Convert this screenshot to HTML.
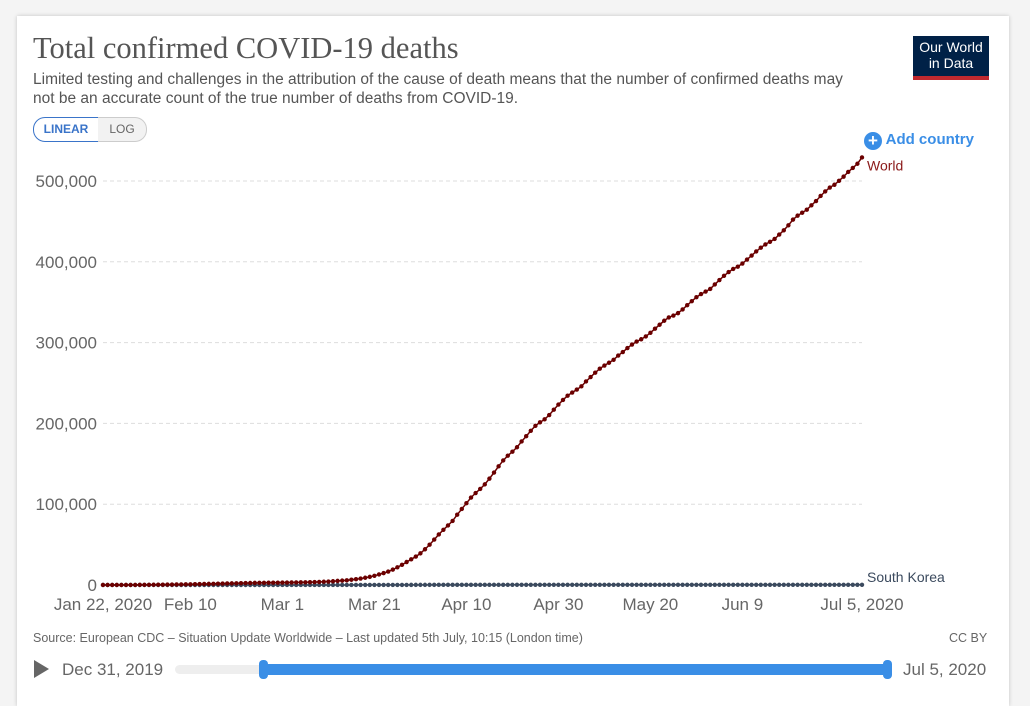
<!DOCTYPE html>
<html><head><meta charset="utf-8"><style>
body{margin:0;width:1030px;height:691px;background:#f4f4f4;font-family:"Liberation Sans",sans-serif;overflow:hidden;position:relative}
#card{position:absolute;left:17px;top:16px;width:992px;height:690px;background:#fff;box-shadow:0 0 4px rgba(0,0,0,.2)}
.abs{position:absolute}
</style></head><body>
<div id="card"></div>
<div class="abs" style="left:33px;top:31px;font-family:'Liberation Serif',serif;font-size:30.5px;color:#555">Total confirmed COVID-19 deaths</div>
<div class="abs" style="left:33px;top:70px;width:880px;font-size:15.5px;line-height:19px;color:#555">Limited testing and challenges in the attribution of the cause of death means that the number of confirmed deaths may<br>not be an accurate count of the true number of deaths from COVID-19.</div>
<div class="abs" style="left:913px;top:36px;width:76px;height:44px;background:#002147;color:#fff;font-size:14px;line-height:16px;text-align:center;padding-top:3px;box-sizing:border-box;border-bottom:4px solid #c0292f">Our World<br>in Data</div>
<div class="abs" style="left:33px;top:117px;width:64px;height:23px;border:1px solid #3a74c9;border-radius:12px 0 0 12px;color:#3a74c9;font-size:12px;line-height:23px;text-align:center;font-weight:bold">LINEAR</div>
<div class="abs" style="left:98px;top:117px;width:48px;height:23px;border:1px solid #ccc;border-left:none;border-radius:0 12px 12px 0;color:#666;font-size:12px;line-height:23px;text-align:center;background:#f2f2f2">LOG</div>
<div class="abs" style="left:864px;top:131px;font-size:15px;font-weight:bold;color:#3a8ee6"><span style="display:inline-block;width:18px;height:18px;border-radius:50%;background:#3a8ee6;color:#fff;text-align:center;line-height:18px;font-size:17px;vertical-align:-2px">+</span> Add country</div>
<svg class="abs" style="left:0;top:0" width="1030" height="691" id="svg"></svg>
<div class="abs" style="left:33px;top:631px;font-size:12.5px;color:#666">Source: European CDC – Situation Update Worldwide – Last updated 5th July, 10:15 (London time)</div>
<div class="abs" style="left:949px;top:631px;font-size:12.5px;color:#666">CC BY</div>
<div class="abs" style="left:34px;top:660px;width:0;height:0;border-left:15px solid #666;border-top:9px solid transparent;border-bottom:9px solid transparent"></div>
<div class="abs" style="left:62px;top:660px;font-size:17px;color:#666">Dec 31, 2019</div>
<div class="abs" style="left:175px;top:665px;width:713px;height:9px;border-radius:5px;background:#eee"></div>
<div class="abs" style="left:264px;top:664px;width:624px;height:11px;background:#3a8ee6"></div>
<div class="abs" style="left:259px;top:660px;width:9px;height:19px;border-radius:4px;background:#3a8ee6"></div>
<div class="abs" style="left:883px;top:660px;width:9px;height:19px;border-radius:4px;background:#3a8ee6"></div>
<div class="abs" style="left:903px;top:660px;font-size:17px;color:#666">Jul 5, 2020</div>
<script>
const world=[17,18,26,42,56,82,106,132,170,213,
259,304,362,426,492,565,638,724,813,910,1018,1115,1261,1383,1526,1669,1775,1873,2009,2126,2247,2360,2460,2618,2699,2763,2800,2858,2923,
2977,3050,3117,3202,3285,3387,3494,3599,3827,4025,4296,4628,5090,5415,5835,6513,7162,7975,8971,10049,11399,13078,14710,16650,19021,21904,24961,28454,31787,35184,39152,
44230,49856,56198,62567,68339,73707,79340,87003,94089,101279,108174,113828,118914,124536,131637,139097,146842,154153,160051,164955,170479,177628,184132,190856,197003,201343,205034,210369,216912,223258,
229014,234297,238226,241840,245868,251898,257355,262751,267732,271586,275061,278729,283948,288340,293203,297613,301252,304134,307651,312096,317195,322095,327041,331176,333446,336468,340991,346359,351290,356195,360015,
363114,366385,372008,377443,382628,387245,391176,393991,397848,402786,407706,412870,417441,421526,424796,428243,433696,438988,445192,452207,457133,460714,464453,469918,475128,481458,487135,491939,495347,500212,
505404,511187,516210,521355,529113];
const korea=[0,0,0,0,0,0,0,0,0,0,0,0,0,0,0,0,0,0,0,0,0,0,0,0,0,0,0,0,0,1,2,2,6,8,10,12,13,13,16,
17,28,28,35,35,42,44,50,53,54,60,66,66,72,75,75,81,84,91,94,102,104,111,111,120,126,131,139,144,152,158,
162,165,169,174,177,183,186,192,200,204,208,211,214,217,222,225,229,230,232,234,236,237,238,240,240,242,243,244,246,247,
248,250,250,252,254,255,255,256,256,256,256,256,259,260,260,262,263,263,263,263,264,264,266,266,267,269,269,269,269,270,271,
272,273,273,273,273,273,273,276,276,277,277,278,279,279,280,280,280,280,280,280,280,280,280,280,280,281,281,282,282,282,
282,282,283,283,283];
const yTicks=[0,100000,200000,300000,400000,500000];
const yTickLabels=["0","100,000","200,000","300,000","400,000","500,000"];
const xTickDays=[0,19,39,59,79,99,119,139,165];
const xTickLabels=["Jan 22, 2020","Feb 10","Mar 1","Mar 21","Apr 10","Apr 30","May 20","Jun 9","Jul 5, 2020"];
const X0=103,X1=862,Y0=585,Y1=181,NDAYS=165,YMAX=500000;
const x=d=>X0+(X1-X0)*d/NDAYS;
const y=v=>Y0-(Y0-Y1)*v/YMAX;
const svg=document.getElementById('svg');
const NS='http://www.w3.org/2000/svg';
function mk(t,a){const e=document.createElementNS(NS,t);for(const k in a)e.setAttribute(k,a[k]);svg.appendChild(e);return e;}
yTicks.forEach((v,i)=>{
  if(v>0){const g=mk('line',{x1:X0,x2:X1,y1:y(v),y2:y(v),stroke:'#ddd','stroke-dasharray':'4,3'});
  
  }
  const t=mk('text',{x:97,y:y(v)+6,'text-anchor':'end','font-size':17,fill:'#666','font-family':'Liberation Sans, sans-serif'});
  t.textContent=yTickLabels[i];
  
  
});
xTickDays.forEach((d,i)=>{
  const t=mk('text',{x:x(d),y:610,'text-anchor':'middle','font-size':17,fill:'#666','font-family':'Liberation Sans, sans-serif'});
  t.textContent=xTickLabels[i];
  
  
});
function series(arr,col,name){
  const p=mk('polyline',{points:arr.map((v,i)=>x(i)+','+y(v)).join(' '),fill:'none',stroke:col,'stroke-width':1.5});
  
  
  arr.forEach((v,i)=>{const c=mk('circle',{cx:x(i),cy:y(v),r:2.2,fill:col});
  
  });
}
series(korea,'#3b4a5e','south-korea');
series(world,'#6b0000','world');
const wl=mk('text',{x:867,y:y(world[world.length-1])+13,'font-size':14,fill:'#8b1a1a','font-family':'Liberation Sans, sans-serif'});
wl.textContent='World';


const kl=mk('text',{x:867,y:582,'font-size':14,fill:'#3b4a5e','font-family':'Liberation Sans, sans-serif'});
kl.textContent='South Korea';


</script>
</body></html>
